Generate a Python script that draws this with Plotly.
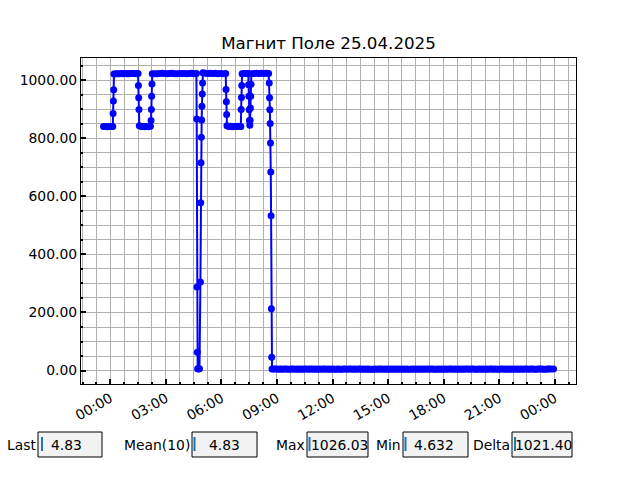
import pandas as pd
import plotly.graph_objects as go

TITLE = "Магнит Поле 25.04.2025"

# readings logged late on 24.04 (before midnight)
times_24 = ["23:38", "23:44", "23:50", "23:56"]
values_24 = [840.6, 841.1, 840.3, 840.9]

# readings on 25.04
times_25 = [
    "00:02", "00:08", "00:09", "00:10", "00:11", "00:12",
    "00:18", "00:24", "00:30", "00:36", "00:42", "00:48", "00:54",
    "01:00", "01:06", "01:12", "01:18", "01:24", "01:30",
    "01:31", "01:32", "01:33", "01:34",
    "01:40", "01:46", "01:52", "01:58", "02:04", "02:10",
    "02:12", "02:13", "02:14", "02:15", "02:16",
    "02:24", "02:32", "02:40", "02:48", "02:56", "03:04", "03:12", "03:20", "03:28",
    "03:36", "03:44", "03:52", "04:00", "04:08", "04:16", "04:24", "04:32", "04:39",
    "04:40", "04:41", "04:42", "04:43", "04:46", "04:49",
    "04:52", "04:53", "04:54", "04:55", "04:56", "04:57", "04:58", "04:59", "05:00",
    "05:08", "05:16", "05:24", "05:32", "05:40", "05:48", "05:56", "06:04", "06:14",
    "06:15", "06:16", "06:17", "06:18",
    "06:24", "06:30", "06:36", "06:42", "06:48", "06:54", "07:00", "07:03",
    "07:04", "07:05", "07:06", "07:07",
    "07:13", "07:19", "07:25", "07:27",
    "07:28", "07:29", "07:30", "07:31", "07:32", "07:33", "07:34", "07:35", "07:36", "07:37",
    "07:45", "07:53", "08:01", "08:09", "08:17", "08:25", "08:33",
    "08:35", "08:36", "08:37", "08:38", "08:39", "08:40", "08:41", "08:42", "08:43", "08:44",
    "08:48", "08:54",
    "09:00", "09:06", "09:12", "09:18", "09:24", "09:30", "09:36", "09:42", "09:48", "09:54",
    "10:00", "10:06", "10:12", "10:18", "10:24", "10:30", "10:36", "10:42", "10:48", "10:54",
    "11:00", "11:06", "11:12", "11:18", "11:24", "11:30", "11:36", "11:42", "11:48", "11:54",
    "12:00", "12:06", "12:12", "12:18", "12:24", "12:30", "12:36", "12:42", "12:48", "12:54",
    "13:00", "13:06", "13:12", "13:18", "13:24", "13:30", "13:36", "13:42", "13:48", "13:54",
    "14:00", "14:06", "14:12", "14:18", "14:24", "14:30", "14:36", "14:42", "14:48", "14:54",
    "15:00", "15:06", "15:12", "15:18", "15:24", "15:30", "15:36", "15:42", "15:48", "15:54",
    "16:00", "16:06", "16:12", "16:18", "16:24", "16:30", "16:36", "16:42", "16:48", "16:54",
    "17:00", "17:06", "17:12", "17:18", "17:24", "17:30", "17:36", "17:42", "17:48", "17:54",
    "18:00", "18:06", "18:12", "18:18", "18:24", "18:30", "18:36", "18:42", "18:48", "18:54",
    "19:00", "19:06", "19:12", "19:18", "19:24", "19:30", "19:36", "19:42", "19:48", "19:54",
    "20:00", "20:06", "20:12", "20:18", "20:24", "20:30", "20:36", "20:42", "20:48", "20:54",
    "21:00", "21:06", "21:12", "21:18", "21:24", "21:30", "21:36", "21:42", "21:48", "21:54",
    "22:00", "22:06", "22:12", "22:18", "22:24", "22:30", "22:36", "22:42", "22:48", "22:54",
    "23:00", "23:06", "23:12", "23:18", "23:24", "23:30", "23:36", "23:42", "23:48", "23:56",
]
values_25 = [
    841.4, 840.7, 886.2, 928.5, 968.1, 1021.8,
    1022.4, 1023.1, 1022.7, 1023.5, 1022.9, 1023.8, 1023.2,
    1022.6, 1023.4, 1024.0, 1023.3, 1022.8, 1023.6,
    982.3, 940.1, 899.4, 843.2,
    840.8, 841.3, 840.5, 841.0, 840.2, 841.6,
    861.4, 899.7, 945.2, 987.3, 1022.5,
    1023.1, 1022.6, 1023.7, 1024.2, 1023.5, 1022.9, 1023.8, 1024.5, 1023.2,
    1022.7, 1023.9, 1024.1, 1023.4, 1022.8, 1023.6, 1024.3, 1023.0, 1023.5,
    866.9, 287.6, 63.2, 6.1, 5.4, 5.8,
    305.2, 577.9, 716.4, 804.1, 863.0, 911.2, 952.8, 990.6, 1026.03,
    1024.6, 1023.9, 1024.8, 1023.5, 1024.2, 1023.1, 1023.8, 1022.9, 1023.4,
    968.2, 926.4, 882.1, 843.5,
    840.9, 841.5, 840.4, 841.2, 840.7, 841.8, 840.6, 841.1,
    899.3, 940.6, 982.4, 1022.9,
    1023.6, 1024.1, 1023.3, 1023.8,
    985.1, 945.3, 899.0, 861.5, 845.2, 862.8, 904.7, 944.9, 986.6, 1023.2,
    1023.9, 1024.4, 1023.6, 1024.9, 1023.7, 1024.2, 1023.5,
    990.8, 940.2, 899.1, 851.0, 784.3, 683.9, 533.7, 212.8, 46.1, 5.2,
    4.91, 4.86,
    4.87, 4.82, 4.95, 4.78, 4.84, 4.90, 4.81, 4.76, 4.88, 4.85,
    4.76, 4.88, 4.81, 4.93, 4.79, 4.85, 4.90, 4.74, 4.83, 4.87,
    4.72, 4.86, 4.80, 4.91, 4.77, 4.83, 4.89, 4.78, 4.84, 4.81,
    4.89, 4.74, 4.82, 4.96, 4.81, 4.78, 4.85, 4.90, 4.76, 4.83,
    4.85, 4.70, 4.88, 4.79, 4.84, 4.92, 4.77, 4.86, 4.81, 4.89,
    4.75, 4.81, 4.632, 4.86, 4.79, 4.90, 4.84, 4.72, 4.88, 4.80,
    4.83, 4.77, 4.89, 4.72, 4.85, 4.80, 4.91, 4.78, 4.86, 4.82,
    4.94, 4.78, 4.82, 4.87, 4.73, 4.86, 4.80, 4.89, 4.76, 4.84,
    4.80, 4.91, 4.76, 4.84, 4.89, 4.75, 4.82, 4.87, 4.79, 4.85,
    4.82, 4.88, 4.71, 4.85, 4.93, 4.79, 4.84, 4.77, 4.90, 4.81,
    4.86, 4.74, 4.83, 4.90, 4.77, 4.84, 4.88, 4.79, 4.82, 4.87,
    4.81, 4.95, 4.78, 4.87, 4.72, 4.88, 4.83, 4.76, 4.91, 4.80,
    4.79, 4.84, 4.91, 4.76, 4.85, 4.80, 4.87, 4.73, 4.86, 4.82,
    4.89, 4.73, 4.86, 4.81, 4.85, 4.83, 4.78, 4.90, 4.84, 4.80,
    4.81, 4.85, 4.83, 4.84, 4.82, 4.80, 4.86, 4.83, 4.84, 4.83,
]
assert len(times_25) == len(values_25)

stat_labels = ["Last", "Mean(10)", "Max", "Min", "Delta"]

x = pd.to_datetime(
    ["2025-04-24 " + t for t in times_24] + ["2025-04-25 " + t for t in times_25]
)
y = pd.Series(values_24 + values_25)

# stats shown in the boxes under the chart
last = y.iloc[-1]
mean10 = y.iloc[-10:].mean()
vmax, vmin = y.max(), y.min()
stat_values = [f"{last:.2f}", f"{mean10:.2f}", f"{vmax:.2f}", f"{vmin:.3f}", f"{vmax - vmin:.2f}"]

# matplotlib-like 5% padding around the data
x_pad = (x.max() - x.min()) * 0.05
y_pad = (vmax - vmin) * 0.05

FONT = "DejaVu Sans"
GRID = "#b0b0b0"
L, R, T, B = 81, 576, 58, 384  # plot area in pixels


def px_x(px):
    return (px - L) / (R - L)


def px_y(py):
    return (B - py) / (B - T)


fig = go.Figure()
fig.add_trace(
    go.Scatter(
        x=x,
        y=y,
        mode="lines+markers",
        line=dict(color="#0000ff", width=2),
        marker=dict(color="#0000ff", size=7, line=dict(width=0)),
        showlegend=False,
    )
)

axis_common = dict(
    showline=True,
    linecolor="black",
    linewidth=1.2,
    mirror=True,
    ticks="inside",
    ticklen=5,
    tickwidth=2,
    tickcolor="black",
    showgrid=True,
    gridcolor=GRID,
    gridwidth=1,
    zeroline=False,
    tickfont=dict(family=FONT, size=13.9, color="black"),
)

fig.update_xaxes(
    **axis_common,
    type="date",
    range=[x.min() - x_pad, x.max() + x_pad],
    tick0="2025-04-25 00:00",
    dtick=3 * 3600 * 1000,
    tickformat="%H:%M",
    tickangle=-30,
    minor=dict(
        dtick=45 * 60 * 1000, tick0="2025-04-25 00:00", showgrid=True,
        gridcolor=GRID, gridwidth=1, ticks="inside", ticklen=2, tickcolor="black",
    ),
)
fig.update_yaxes(
    **axis_common,
    range=[vmin - y_pad, vmax + y_pad],
    tick0=0,
    dtick=200,
    tickformat=".2f",
    minor=dict(
        dtick=50, showgrid=True, gridcolor=GRID, gridwidth=1,
        ticks="inside", ticklen=2, tickcolor="black",
    ),
)

# text boxes with the summary values
box_left = [38, 192, 307, 403, 512]
box_right = [102, 257, 368, 468, 572]
value_center = [66, 224, 339, 434, 543]
cursor_x = [42, 194.5, 309.5, 405.5, 515]
box_top, box_bottom = 432, 457

shapes, annotations = [], []
for lab, val, bl, br, vc, cx in zip(stat_labels, stat_values, box_left, box_right, value_center, cursor_x):
    shapes.append(dict(
        type="rect", xref="paper", yref="paper",
        x0=px_x(bl), x1=px_x(br), y0=px_y(box_bottom), y1=px_y(box_top),
        fillcolor="#f2f2f2", line=dict(color="black", width=1), layer="above",
    ))
    shapes.append(dict(
        type="line", xref="paper", yref="paper",
        x0=px_x(cx), x1=px_x(cx), y0=px_y(451), y1=px_y(437),
        line=dict(color="#1f77b4", width=2), layer="above",
    ))
    annotations.append(dict(
        text=lab, xref="paper", yref="paper", x=px_x(bl - 0.5), y=px_y(444.5),
        xanchor="right", yanchor="middle", showarrow=False,
        font=dict(family=FONT, size=13.9, color="black"),
    ))
    annotations.append(dict(
        text=val, xref="paper", yref="paper", x=px_x(vc), y=px_y(444.5),
        xanchor="center", yanchor="middle", showarrow=False,
        font=dict(family=FONT, size=13.9, color="black"),
    ))

fig.update_layout(
    width=640,
    height=480,
    title=dict(
        text=TITLE, x=px_x(328.5), xref="paper", y=1 - 43 / 480, yref="container",
        xanchor="center", yanchor="middle",
        font=dict(family=FONT, size=16.7, color="black"),
    ),
    font=dict(family=FONT, color="black"),
    plot_bgcolor="white",
    paper_bgcolor="white",
    margin=dict(l=L, r=640 - R, t=T, b=480 - B, autoexpand=False),
    shapes=shapes,
    annotations=annotations,
)

fig.write_html(
    "out.html",
    config={"displayModeBar": False},
    post_script="document.body.style.margin='0';",
)
